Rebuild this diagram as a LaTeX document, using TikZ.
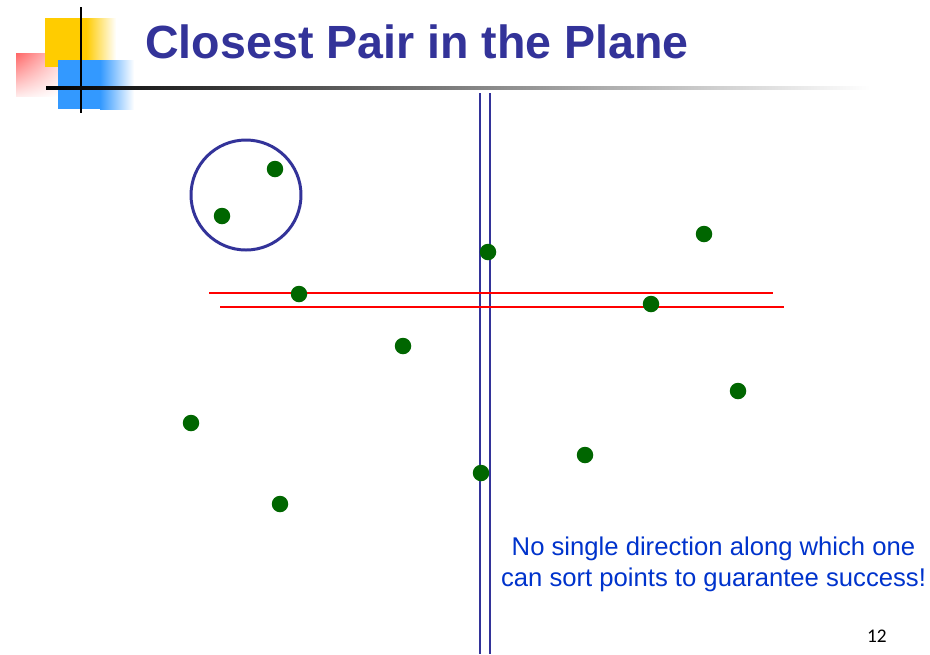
\documentclass[tikz,border=0pt]{standalone}
\usepackage{fontspec}
\usetikzlibrary{shadings}
\setmainfont{Liberation Sans}
\newfontfamily\numfont{Carlito}
\definecolor{tytul}{RGB}{51,51,153}
\definecolor{punkt}{RGB}{0,102,0}
\definecolor{opis}{RGB}{0,51,204}
\definecolor{zolty}{RGB}{255,204,0}
\definecolor{niebieski}{RGB}{51,153,255}
\begin{document}
\begin{tikzpicture}[x=0.02cm, y=-0.02cm, font=\small,
	pkt/.style={circle, fill=punkt, inner sep=0pt, minimum size=0.33cm}]
	\useasboundingbox (0,0) rectangle (930,654);
	% logo w lewym górnym rogu
	\shade[upper left=red!60, upper right=red!20, lower left=red!8, lower right=white] (16,53) rectangle (58,96);
	\fill[zolty] (45,18) rectangle (86,67);
	\shade[left color=zolty, right color=white] (86,18) rectangle (116,67);
	\fill[niebieski] (58,60) rectangle (100,109);
	\shade[left color=niebieski, right color=white] (100,60) rectangle (134,109);
	\draw[line width=1.6pt] (81,7) -- (81,113);
	\shade[left color=black, middle color=gray!75, right color=white] (46,86.5) rectangle (870,89.5);
	\node[anchor=base west, inner sep=0, text=tytul, font=\fontsize{26.5}{30}\selectfont\bfseries] (tytul) at (145,58) {Closest Pair in the Plane};
	% pasy: pionowy i poziomy
	\draw[tytul, line width=1.1pt] (480,93) -- (480,654);
	\draw[tytul, line width=1.1pt] (490,93) -- (490,654);
	\draw[red, line width=0.9pt] (209,293) -- (773,293);
	\draw[red, line width=0.9pt] (220,307) -- (784,307);
	% najbliższa para
	\draw[tytul, line width=1.7pt] (246,195) circle (55);
	% punkty
	\foreach \n/\x/\y in {1/275/169, 2/222/216, 3/488/252, 4/704/234, 5/299/294, 6/651/304,
		7/403/346, 8/738/391, 9/191/423, 10/585/455, 11/481/473, 12/280/504}
		\node[pkt] (p\n) at (\x,\y) {};
	\node[align=center, text=opis, font=\fontsize{14.6}{17.6}\selectfont] (opis) at (713.5,564)
		{No single direction along which one\\can sort points to guarantee success!};
	\node[anchor=base east, inner sep=0, font=\numfont\fontsize{11}{13}\selectfont] (nr) at (887,642) {12};
\end{tikzpicture}
\end{document}
